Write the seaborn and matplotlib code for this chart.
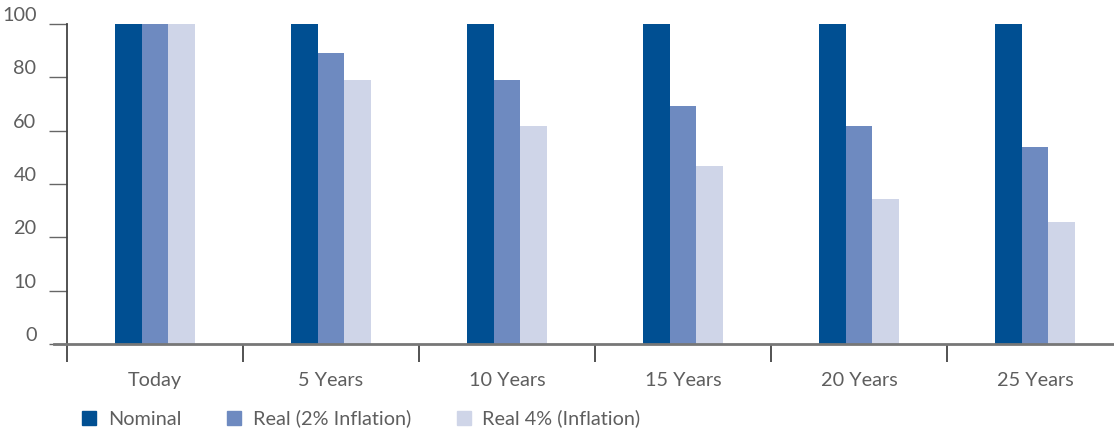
import numpy as np
import pandas as pd
import matplotlib
matplotlib.use("Agg")
import matplotlib.pyplot as plt
from matplotlib.lines import Line2D
import seaborn as sns

# data
periods = ["Today", "5 Years", "10 Years", "15 Years", "20 Years", "25 Years"]
series = ["Nominal", "Real (2% Inflation)", "Real 4% (Inflation)"]
nominal = [100, 100, 100, 100, 100, 100]
real_2 = [100, 90.9, 82.5, 74.4, 68.1, 61.6]
real_4 = [100, 82.5, 68.1, 55.6, 45.3, 38.1]
ytick_labels = ["0", "10", "20", "40", "60", "80", "100"]

colors = ["#004F92", "#6E8AC0", "#CFD5E8"]
text_col = "#5E5E5E"

df = pd.DataFrame({
    "period": periods * 3,
    "series": [series[0]] * 6 + [series[1]] * 6 + [series[2]] * 6,
    "value": nominal + real_2 + real_4,
})

sns.set_style("white")
plt.rcParams["font.family"] = ["Lato", "DejaVu Sans"]
fs = 14.3

fig = plt.figure(figsize=(11.14, 4.30), dpi=100)
ax = fig.add_axes([67 / 1114, 1 - 344 / 430, 1056 / 1114, 320 / 430])

sns.barplot(data=df, x="period", y="value", hue="series", order=periods,
            hue_order=series, palette=colors, width=0.46, gap=0,
            saturation=1, errorbar=None, ax=ax, legend=False, linewidth=0)

ax.set_xlim(-0.5, 5.5)
ax.set_ylim(0, 100)
ax.set_yticks(np.linspace(0, 100, 7))
ax.set_yticklabels(ytick_labels)

# category labels centred, boundary ticks between categories
ax.set_xticks(np.arange(6))
ax.set_xticklabels(periods)
ax.tick_params(axis="x", which="major", bottom=True, length=0, pad=20,
               labelsize=fs, labelcolor=text_col)
ax.set_xticks(np.arange(-0.5, 6.0, 1.0), minor=True)
ax.tick_params(axis="x", which="minor", bottom=True, length=13, width=1.3,
               color="#444444", direction="out")
ax.tick_params(axis="y", left=True, length=13, width=1.0, color="#666666",
               labelsize=fs, labelcolor=text_col, pad=9)
for lab in ax.get_yticklabels():
    lab.set_verticalalignment("bottom")

ax.set_xlabel("")
ax.set_ylabel("")
for side in ["top", "right"]:
    ax.spines[side].set_visible(False)
ax.spines["left"].set_color("#444444")
ax.spines["left"].set_linewidth(1.3)
ax.spines["bottom"].set_color("#777777")
ax.spines["bottom"].set_linewidth(2)
ax.spines["bottom"].set_bounds(-0.575, 5.5)

handles = [Line2D([0], [0], marker="s", linestyle="", markersize=10.5,
                  markerfacecolor=c, markeredgecolor=c) for c in colors]
leg = fig.legend(handles, series, loc="lower left",
                 bbox_to_anchor=(72 / 1114, -0.013), ncol=3, frameon=False,
                 fontsize=fs, handlelength=0.9, handletextpad=0.5,
                 columnspacing=2.2, borderaxespad=0.0)
for t in leg.get_texts():
    t.set_color(text_col)

fig.savefig("out.png", dpi=100)
